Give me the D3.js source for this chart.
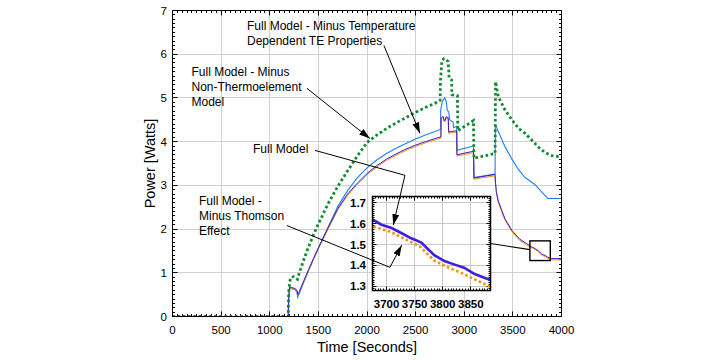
<!DOCTYPE html>
<html><head><meta charset="utf-8">
<script src="https://cdn.jsdelivr.net/npm/d3@7"></script>
<style>body{margin:0;background:#fff}svg{display:block}text{font-family:"Liberation Sans",Arial,Helvetica,sans-serif}</style>
</head><body><svg id="c" width="720" height="360"></svg>
<script>
// ---- tick labels / domains ----
const xTicks=[0,500,1000,1500,2000,2500,3000,3500,4000];
const yTicks=[0,1,2,3,4,5,6,7];
const insetXTicks=[3700,3750,3800,3850];
const insetYTicks=[1.3,1.4,1.5,1.6,1.7];
const insetXDomain=[3675,3885];
const insetYDomain=[1.28,1.73];

// ---- series [time s, power W] ----
const fullModel=[[0,0],[1190,0],[1195,0.45],[1205,0.68],[1230,0.66],[1260,0.64],[1280,0.6],[1290,0.5],[1300,0.55],[1350,0.82],[1400,1.08],[1450,1.33],[1500,1.57],[1600,2.03],[1700,2.47],[1800,2.8],[1900,3.05],[2000,3.27],[2100,3.45],[2200,3.6],[2300,3.72],[2400,3.83],[2500,3.92],[2600,4.0],[2700,4.07],[2760,4.11],[2762,4.53],[2775,4.57],[2785,4.57],[2792,4.49],[2805,4.49],[2812,4.57],[2835,4.55],[2840,4.22],[2922,4.25],[2925,3.7],[3095,3.78],[3100,3.17],[3317,3.25],[3320,3.1],[3330,2.86],[3350,2.64],[3385,2.43],[3420,2.23],[3490,1.97],[3570,1.77],[3640,1.67],[3675,1.62],[3691,1.595],[3709,1.579],[3727,1.554],[3744,1.53],[3762,1.509],[3773,1.48],[3785,1.449],[3803,1.421],[3820,1.405],[3838,1.389],[3856,1.36],[3874,1.341],[3885,1.33],[3900,1.325],[4000,1.325]];
const minusThomson=[[0,0],[1190,0],[1195,0.43],[1205,0.66],[1230,0.64],[1260,0.62],[1280,0.58],[1290,0.48],[1300,0.53],[1350,0.8],[1400,1.06],[1450,1.31],[1500,1.55],[1600,2.0],[1700,2.44],[1800,2.77],[1900,3.02],[2000,3.24],[2100,3.42],[2200,3.57],[2300,3.69],[2400,3.8],[2500,3.89],[2600,3.97],[2700,4.04],[2760,4.08],[2762,4.5],[2775,4.54],[2785,4.54],[2792,4.46],[2805,4.46],[2812,4.54],[2835,4.52],[2840,4.19],[2922,4.22],[2925,3.67],[3095,3.75],[3100,3.14],[3317,3.22],[3320,3.07],[3330,2.83],[3350,2.61],[3385,2.4],[3420,2.2],[3490,1.94],[3570,1.74],[3640,1.64],[3675,1.588],[3706,1.562],[3736,1.522],[3760,1.489],[3784,1.425],[3808,1.392],[3837,1.36],[3861,1.328],[3885,1.298],[3900,1.295],[4000,1.295]];
const minusTempDep=[[0,0],[1190,0],[1195,0.4],[1205,0.65],[1230,0.63],[1260,0.62],[1280,0.55],[1287,0.44],[1300,0.5],[1350,0.78],[1400,1.05],[1450,1.31],[1500,1.56],[1600,2.04],[1700,2.52],[1800,2.88],[1900,3.17],[2000,3.4],[2100,3.58],[2200,3.73],[2300,3.85],[2400,3.96],[2500,4.06],[2600,4.15],[2700,4.23],[2755,4.28],[2758,4.72],[2775,4.93],[2798,5.0],[2815,4.92],[2825,4.72],[2840,4.68],[2850,4.5],[2885,4.45],[2890,4.32],[2922,4.35],[2925,3.8],[3095,3.9],[3100,3.18],[3317,3.26],[3320,4.4],[3350,4.23],[3420,3.88],[3490,3.6],[3555,3.37],[3625,3.18],[3726,3.02],[3795,2.85],[3860,2.7],[4000,2.7]];
const minusNonTE=[[0,0],[1190,0],[1195,0.55],[1205,0.8],[1220,0.9],[1245,0.91],[1265,0.88],[1285,0.85],[1300,0.97],[1350,1.3],[1400,1.6],[1450,1.87],[1500,2.12],[1600,2.58],[1700,2.98],[1800,3.33],[1900,3.67],[2000,3.98],[2100,4.15],[2200,4.3],[2300,4.43],[2400,4.55],[2500,4.67],[2600,4.78],[2700,4.88],[2752,4.95],[2755,5.37],[2770,5.85],[2790,5.9],[2805,5.9],[2835,5.83],[2845,5.45],[2870,5.41],[2873,5.07],[2930,5.05],[2934,4.25],[3095,4.48],[3100,3.62],[3317,3.73],[3322,5.37],[3350,5.03],[3420,4.72],[3490,4.5],[3560,4.3],[3625,4.19],[3700,4.02],[3760,3.88],[3830,3.75],[3900,3.68],[4000,3.65]];

const svg=d3.select('#c');
const cr=v=>Math.round(v-0.5)+0.5;
const P={l:172.5,r:561.5,t:10.5,b:316.5};
const x=d3.scaleLinear().domain([0,4000]).range([P.l,P.r]);
const y=d3.scaleLinear().domain([0,7]).range([P.b,P.t]);

const defs=svg.append('defs');
defs.append('clipPath').attr('id','mc').append('rect').attr('x',P.l).attr('y',P.t).attr('width',P.r-P.l).attr('height',P.b-P.t);
defs.append('marker').attr('id','ah').attr('viewBox','0 0 11 7').attr('refX',11).attr('refY',3.5)
  .attr('markerWidth',11).attr('markerHeight',7).attr('markerUnits','userSpaceOnUse').attr('orient','auto')
  .append('path').attr('d','M0,0L11,3.5L0,7z').attr('fill','#000');

// grid
const g=svg.append('g');
g.selectAll('.gx').data(xTicks.slice(1,-1)).join('line').attr('x1',d=>cr(x(d))).attr('x2',d=>cr(x(d))).attr('y1',P.t).attr('y2',P.b).attr('stroke','#d0d0d0');
g.selectAll('.gy').data(yTicks.slice(1,-1)).join('line').attr('y1',d=>cr(y(d))).attr('y2',d=>cr(y(d))).attr('x1',P.l).attr('x2',P.r).attr('stroke','#d0d0d0');

// minor/major ticks inward on all sides
function ticksBox(gg,xs,ys,xMin,xMaj,yMin,yMaj,box,len,lenM){
  const isMaj=(v,arr)=>arr.some(a=>Math.abs(a-v)<1e-6);
  xMin.forEach(v=>{const px=cr(xs(v));const L=isMaj(v,xMaj)?lenM:len;
    gg.append('line').attr('x1',px).attr('x2',px).attr('y1',box.b).attr('y2',box.b-L).attr('stroke','#000');
    gg.append('line').attr('x1',px).attr('x2',px).attr('y1',box.t).attr('y2',box.t+L).attr('stroke','#000');});
  yMin.forEach(v=>{const py=cr(ys(v));const L=isMaj(v,yMaj)?lenM:len;
    gg.append('line').attr('y1',py).attr('y2',py).attr('x1',box.l).attr('x2',box.l+L).attr('stroke','#000');
    gg.append('line').attr('y1',py).attr('y2',py).attr('x1',box.r).attr('x2',box.r-L).attr('stroke','#000');});
}
ticksBox(g,x,y,d3.range(0,4001,50),xTicks,d3.range(0,70.01,1).map(v=>v/10),yTicks,P,2.5,5);

// series
const line=(xs,ys)=>d3.line().x(d=>xs(d[0])).y(d=>ys(d[1]));
const mg=svg.append('g').attr('clip-path','url(#mc)');
mg.append('path').datum(minusTempDep).attr('d',line(x,y)).attr('fill','none').attr('stroke','#1f80e8').attr('stroke-width',1.1);
mg.append('path').datum(minusThomson).attr('d',line(x,y)).attr('fill','none').attr('stroke','#f7900a').attr('stroke-width',1);
mg.append('path').datum(fullModel).attr('d',line(x,y)).attr('fill','none').attr('stroke','#3a1cd6').attr('stroke-width',1);
mg.append('path').datum(minusNonTE).attr('d',line(x,y)).attr('fill','none').attr('stroke','#0f8a2e').attr('stroke-width',2.8).attr('stroke-dasharray','2.6,2.6');

// frame
svg.append('rect').attr('x',P.l).attr('y',P.t).attr('width',P.r-P.l).attr('height',P.b-P.t).attr('fill','none').attr('stroke','#000');

// axis labels
svg.append('g').selectAll('text').data(xTicks).join('text').attr('x',d=>x(d)).attr('y',334).attr('text-anchor','middle').attr('font-size',11.5).text(d=>d);
svg.append('g').selectAll('text').data(yTicks).join('text').attr('x',167).attr('y',d=>y(d)+4).attr('text-anchor','end').attr('font-size',11.5).text(d=>d);
svg.append('text').attr('x',(P.l+P.r)/2).attr('y',352).attr('text-anchor','middle').attr('font-size',14.5).text('Time [Seconds]');
svg.append('text').attr('transform',`translate(155,${(P.t+P.b)/2}) rotate(-90)`).attr('text-anchor','middle').attr('font-size',14.5).text('Power [Watts]');

// zoom box in main plot
svg.append('rect').attr('x',x(insetXDomain[0])).attr('y',y(insetYDomain[1])).attr('width',x(insetXDomain[1])-x(insetXDomain[0])).attr('height',y(insetYDomain[0])-y(insetYDomain[1])).attr('fill','none').attr('stroke','#000').attr('stroke-width',1.4);

// inset
const I={l:372.5,r:490.5,t:196.5,b:290.5};
const ix=d3.scaleLinear().domain(insetXDomain).range([I.l,I.r]);
const iy=d3.scaleLinear().domain(insetYDomain).range([I.b,I.t]);
svg.append('line').attr('x1',I.r).attr('y1',iy(1.505)).attr('x2',x(insetXDomain[0])).attr('y2',y(1.53)).attr('stroke','#000').attr('stroke-width',1.1);
defs.append('clipPath').attr('id','ic').append('rect').attr('x',I.l).attr('y',I.t).attr('width',I.r-I.l).attr('height',I.b-I.t);
const ig=svg.append('g');
ig.append('rect').attr('x',I.l).attr('y',I.t).attr('width',I.r-I.l).attr('height',I.b-I.t).attr('fill','#fff');
ig.selectAll('.igx').data(insetXTicks).join('line').attr('x1',d=>cr(ix(d))).attr('x2',d=>cr(ix(d))).attr('y1',I.t).attr('y2',I.b).attr('stroke','#c8c8c8');
ig.selectAll('.igy').data(insetYTicks).join('line').attr('y1',d=>cr(iy(d))).attr('y2',d=>cr(iy(d))).attr('x1',I.l).attr('x2',I.r).attr('stroke','#c8c8c8');
ticksBox(ig,ix,iy,d3.range(3675,3886,5),insetXTicks,d3.range(128,174,1).map(v=>v/100),insetYTicks,I,2,4);
const il=ig.append('g').attr('clip-path','url(#ic)');
il.append('path').datum(minusThomson).attr('d',line(ix,iy)).attr('fill','none').attr('stroke','#f7900a').attr('stroke-width',2.6).attr('stroke-dasharray','2.6,2.4');
il.append('path').datum(fullModel).attr('d',line(ix,iy)).attr('fill','none').attr('stroke','#3c1fe0').attr('stroke-width',2.6);
ig.append('rect').attr('x',I.l).attr('y',I.t).attr('width',I.r-I.l).attr('height',I.b-I.t).attr('fill','none').attr('stroke','#000').attr('stroke-width',1.5);
ig.selectAll('.ilx').data(insetXTicks).join('text').attr('x',d=>ix(d)).attr('y',308).attr('text-anchor','middle').attr('font-size',11.5).attr('font-weight','bold').text(d=>d);
ig.selectAll('.ily').data(insetYTicks).join('text').attr('x',366).attr('y',d=>iy(d)+4).attr('text-anchor','end').attr('font-size',11.5).attr('font-weight','bold').text(d=>d.toFixed(1));

// annotations
function label(lines,x0,y0){const t=svg.append('text').attr('font-size',12);
  lines.forEach((s,i)=>t.append('tspan').attr('x',x0).attr('y',y0+i*15).text(s));}
label(['Full Model - Minus Temperature','Dependent TE Properties'],247,29.5);
label(['Full Model - Minus','Non-Thermoelement','Model'],191.5,76);
label(['Full Model'],253,152.5);
label(['Full Model -','Minus Thomson','Effect'],199,205);
function arrow(pts){svg.append('path').attr('d',d3.line()(pts)).attr('fill','none').attr('stroke','#000').attr('stroke-width',1).attr('marker-end','url(#ah)');}
arrow([[x(2174),y(6.2)],[x(2544),y(4.19)]]);
arrow([[x(1382),y(5.22)],[x(2030),y(4.07)]]);
arrow([[x(1465),y(3.8)],[x(2390),y(3.23)],[ix(3712),iy(1.593)]]);
arrow([[x(1177),y(2.08)],[ix(3706),iy(1.391)],[ix(3727),iy(1.497)]]);
</script></body></html>
